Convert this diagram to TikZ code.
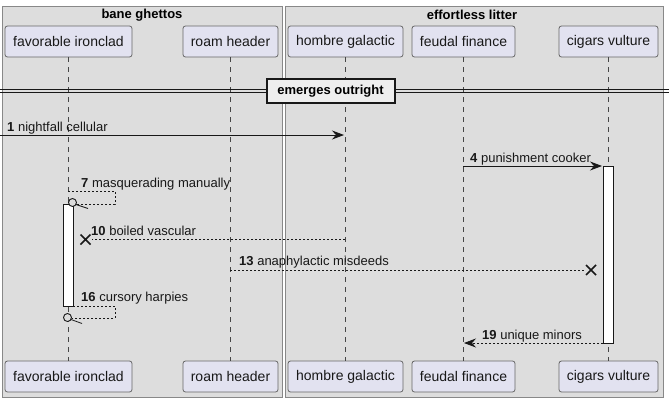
\documentclass[tikz,border=0pt]{standalone}
\usepackage{fontspec}
\setmainfont{Liberation Sans}
\usetikzlibrary{arrows.meta,calc}
\definecolor{grpfill}{HTML}{DDDDDD}
\definecolor{grpdraw}{HTML}{888888}
\definecolor{partfill}{HTML}{E2E2F0}
\definecolor{partdraw}{HTML}{666666}
\definecolor{ink}{HTML}{181818}
\definecolor{divfill}{HTML}{EEEEEE}
\tikzset{
  x=1pt, y=-1pt,
  grp/.style={draw=grpdraw, fill=grpfill, line width=0.8pt},
  grptitle/.style={font=\fontsize{13}{15}\selectfont\bfseries, anchor=center},
  part/.style={draw=partdraw, fill=partfill, rounded corners=2.5pt, line width=0.8pt,
    minimum height=31pt, inner sep=0pt, font=\fontsize{14}{16}\selectfont, text=ink},
  life/.style={draw=ink!80, dash pattern=on 5pt off 5pt, line width=0.6pt},
  msg/.style={draw=ink, line width=0.8pt},
  dmsg/.style={draw=ink, line width=0.8pt, dash pattern=on 2pt off 2pt},
  tip/.style={-{Stealth[length=12pt,width=9pt,inset=4pt]}},
  lbl/.style={font=\fontsize{13}{15}\selectfont, anchor=base west, inner sep=0pt, text=ink},
  act/.style={draw=ink, fill=white, line width=0.8pt},
  xmark/.style={draw=ink, line width=1.6pt},
}
\begin{document}
\begin{tikzpicture}
\useasboundingbox (0,0) rectangle (669,402);
\fill[white] (0,0) rectangle (669,402);
% groups
\draw[grp] (2,6) rectangle (282,397);
\draw[grp] (285,6) rectangle (663,397);
\node[grptitle] (g1) at (142,15) {bane ghettos};
\node[grptitle] (g2) at (472,15) {effortless litter};
% participants top
\node[part, minimum width=127pt] (fi) at (68.5,41.5) {favorable ironclad};
\node[part, minimum width=95pt] (rh) at (230.5,41.5) {roam header};
\node[part, minimum width=115pt] (hg) at (345.5,41.5) {hombre galactic};
\node[part, minimum width=103pt] (ff) at (463.5,41.5) {feudal finance};
\node[part, minimum width=99pt] (cv) at (608.5,41.5) {cigars vulture};
% participants bottom
\node[part, minimum width=127pt] (fib) at (68.5,376.5) {favorable ironclad};
\node[part, minimum width=95pt] (rhb) at (230.5,376.5) {roam header};
\node[part, minimum width=115pt] (hgb) at (345.5,376.5) {hombre galactic};
\node[part, minimum width=103pt] (ffb) at (463.5,376.5) {feudal finance};
\node[part, minimum width=99pt] (cvb) at (608.5,376.5) {cigars vulture};
% lifelines
\draw[life] (fi.south) -- (fib.north);
\draw[life] (rh.south) -- (rhb.north);
\draw[life] (hg.south) -- (hgb.north);
\draw[life] (ff.south) -- (ffb.north);
\draw[life] (cv.south) -- (cvb.north);
% divider
\draw[ink, line width=0.8pt] (0,89.5) -- (669,89.5);
\draw[ink, line width=0.8pt] (0,92.5) -- (669,92.5);
\node[draw=ink, fill=divfill, line width=2pt, minimum width=128pt, minimum height=24pt,
  inner sep=0pt, font=\fontsize{13}{15}\selectfont\bfseries] (div) at (330.5,91) {emerges outright};
% activations
\draw[act] (63,204) rectangle (73,306);
\draw[act] (603,166) rectangle (613,343);
\coordinate (a1) at (0,135);
\coordinate (a1e) at (344,135);
% message 1
\draw[msg, tip] (a1) -- (a1e);
\node[lbl] (l1) at (7,131) {\textbf{1} nightfall cellular};
% message 4
\coordinate (m4s) at (463,166);
\coordinate (m4e) at (602,166);
\draw[msg, tip] (m4s) -- (m4e);
\node[lbl] (l4) at (470,162) {\textbf{4} punishment cooker};
% message 7 self
\coordinate (m7a) at (68,191);
\coordinate (m7b) at (115,191);
\coordinate (m7c) at (115,204);
\coordinate (m7d) at (77,204);
\coordinate (m7o) at (72.5,202.5);
\draw[dmsg] (m7a) -- (m7b) -- (m7c) -- (m7d);
\draw[ink, line width=0.9pt, fill=grpfill] (m7o) circle (4);
\draw[ink, line width=0.8pt] (76,204.5) -- (88,208.5);
\node[lbl] (l7) at (81,187) {\textbf{7} masquerading manually};
% message 10
\coordinate (m10s) at (345,239);
\coordinate (m10e) at (92,239);
\coordinate (x10) at (85.5,239.5);
\draw[dmsg] (m10s) -- (m10e);
\draw[xmark] ($(x10)+(-5,-5)$) -- ($(x10)+(5,5)$) ($(x10)+(-5,5)$) -- ($(x10)+(5,-5)$);
\node[lbl] (l10) at (91,235) {\textbf{10} boiled vascular};
% message 13
\coordinate (m13s) at (230,270);
\coordinate (m13e) at (585,270);
\coordinate (x13) at (591,270);
\draw[dmsg] (m13s) -- (m13e);
\draw[xmark] ($(x13)+(-5,-5)$) -- ($(x13)+(5,5)$) ($(x13)+(-5,5)$) -- ($(x13)+(5,-5)$);
\node[lbl] (l13) at (239,265) {\textbf{13} anaphylactic misdeeds};
% message 16 self
\coordinate (m16a) at (73,306);
\coordinate (m16b) at (115,306);
\coordinate (m16c) at (115,318);
\coordinate (m16d) at (72,318);
\coordinate (m16o) at (67.5,317.5);
\draw[dmsg] (m16a) -- (m16b) -- (m16c) -- (m16d);
\draw[ink, line width=0.9pt, fill=grpfill] (m16o) circle (4);
\draw[ink, line width=0.8pt] (71,319.5) -- (82,323.5);
\node[lbl] (l16) at (81,301) {\textbf{16} cursory harpies};
% message 19
\coordinate (m19s) at (603,343);
\coordinate (m19e) at (464,343);
\draw[dmsg, tip] (m19s) -- (m19e);
\node[lbl] (l19) at (482,339) {\textbf{19} unique minors};
\end{tikzpicture}
\end{document}
